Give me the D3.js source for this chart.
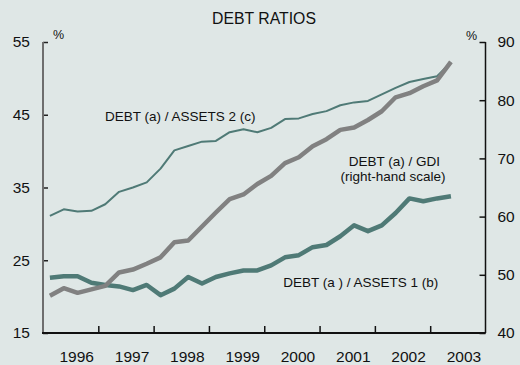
<!DOCTYPE html>
<html>
<head>
<meta charset="utf-8">
<script src="https://cdn.jsdelivr.net/npm/d3@7"></script>
<style>
  html, body { margin: 0; padding: 0; background: #dfe7e6; }
  svg { display: block; font-family: "Liberation Sans", Arial, sans-serif; }
</style>
</head>
<body>
<svg id="chart" width="520" height="365"></svg>
<script>
// Quarterly observations, 1996 Q1 to 2003 Q2
const quarters = [
  "1996Q1","1996Q2","1996Q3","1996Q4","1997Q1","1997Q2","1997Q3","1997Q4",
  "1998Q1","1998Q2","1998Q3","1998Q4","1999Q1","1999Q2","1999Q3","1999Q4",
  "2000Q1","2000Q2","2000Q3","2000Q4","2001Q1","2001Q2","2001Q3","2001Q4",
  "2002Q1","2002Q2","2002Q3","2002Q4","2003Q1","2003Q2"
];

// Debt / assets 2 (left scale, %)
const debtAssets2 = [
  31.1, 32.0, 31.7, 31.8, 32.7, 34.4, 35.0, 35.7, 37.6, 40.1,
  40.7, 41.3, 41.4, 42.6, 43.0, 42.6, 43.2, 44.4, 44.5, 45.1,
  45.5, 46.3, 46.7, 46.9, 47.8, 48.7, 49.5, 49.9, 50.3, 52.2
];

// Debt / assets 1 (left scale, %)
const debtAssets1 = [
  22.6, 22.8, 22.8, 21.9, 21.6, 21.4, 20.9, 21.6, 20.2, 21.1,
  22.7, 21.8, 22.7, 23.2, 23.6, 23.6, 24.3, 25.4, 25.7, 26.8,
  27.1, 28.3, 29.8, 29.0, 29.8, 31.5, 33.5, 33.1, 33.5, 33.8
];

// Debt / GDI (right scale, %)
const debtGdi = [
  46.4, 47.7, 46.9, 47.5, 48.1, 50.4, 50.9, 51.9, 53.0, 55.6,
  55.9, 58.3, 60.7, 63.0, 63.8, 65.6, 67.0, 69.2, 70.2, 72.1,
  73.3, 74.9, 75.3, 76.6, 78.1, 80.5, 81.2, 82.4, 83.4, 86.6
];

const yearLabels = ["1996","1997","1998","1999","2000","2001","2002","2003"];
const leftTicks = [15, 25, 35, 45, 55];
const rightTicks = [40, 50, 60, 70, 80, 90];

const teal = "#4f7a76";
const grey = "#818181";

const svg = d3.select("#chart");
const W = 520, H = 365;
const plot = { left: 43, right: 485.5, top: 42, bottom: 333 };

// Each quarter is plotted at its mid-point
const qTime = q => +q.slice(0, 4) + (+q.slice(5) - 1) / 4 + 0.125;

const x = d3.scaleLinear().domain([1996, 2004]).range([plot.left, plot.right]);
const yL = d3.scaleLinear().domain([15, 55]).range([plot.bottom, plot.top]);
const yR = d3.scaleLinear().domain([40, 90]).range([plot.bottom, plot.top]);

svg.append("rect").attr("width", W).attr("height", H).attr("fill", "#dfe7e6");

// Title
svg.append("text")
  .attr("x", 264).attr("y", 23.5)
  .attr("text-anchor", "middle")
  .attr("font-size", 15.8).attr("fill", "#111")
  .text("DEBT RATIOS");

// Left axis (ticks point inward)
const leftAxis = d3.axisRight(yL).tickValues(leftTicks).tickSize(5).tickFormat("");
const gL = svg.append("g").attr("transform", `translate(${plot.left},0)`).call(leftAxis);
gL.select(".domain").remove();
gL.selectAll(".tick line").attr("stroke", "#222").attr("stroke-width", 1.5);
svg.append("line")
  .attr("x1", plot.left).attr("x2", plot.left)
  .attr("y1", plot.top).attr("y2", plot.bottom)
  .attr("stroke", "#6e6e6e").attr("stroke-width", 2);
svg.append("g").selectAll("text").data(leftTicks).join("text")
  .attr("x", 30).attr("y", d => yL(d))
  .attr("dy", "0.35em").attr("text-anchor", "end")
  .attr("font-size", 15.5).attr("fill", "#111")
  .text(d => d);

// Right axis (ticks point inward)
const rightAxis = d3.axisLeft(yR).tickValues(rightTicks).tickSize(6).tickFormat("");
const gR = svg.append("g").attr("transform", `translate(${plot.right},0)`).call(rightAxis);
gR.select(".domain").remove();
gR.selectAll(".tick line").attr("stroke", "#111").attr("stroke-width", 1.5);
svg.append("line")
  .attr("x1", plot.right).attr("x2", plot.right)
  .attr("y1", plot.top).attr("y2", plot.bottom)
  .attr("stroke", "#111").attr("stroke-width", 1.5);
svg.append("g").selectAll("text").data(rightTicks).join("text")
  .attr("x", 497.5).attr("y", d => yR(d))
  .attr("dy", "0.35em").attr("text-anchor", "start")
  .attr("font-size", 15.5).attr("fill", "#111")
  .text(d => d);

// Bottom axis: ticks at year boundaries, labels between them
const yearBounds = d3.range(1997, 2004);
const bottomAxis = d3.axisTop(x).tickValues(yearBounds).tickSize(7).tickFormat("");
const gB = svg.append("g").attr("transform", `translate(0,${plot.bottom})`).call(bottomAxis);
gB.select(".domain").remove();
gB.selectAll(".tick line").attr("stroke", "#111").attr("stroke-width", 1.5);
svg.append("line")
  .attr("x1", plot.left - 1).attr("x2", plot.right)
  .attr("y1", plot.bottom).attr("y2", plot.bottom)
  .attr("stroke", "#111").attr("stroke-width", 2);
svg.append("g").selectAll("text").data(yearLabels).join("text")
  .attr("x", d => x(+d + 0.61)).attr("y", 362)
  .attr("text-anchor", "middle")
  .attr("font-size", 15.5).attr("fill", "#111")
  .text(d => d);

// Unit labels
svg.append("text").attr("x", 53).attr("y", 38.5)
  .attr("font-size", 12.5).attr("fill", "#111").text("%");
svg.append("text").attr("x", 466).attr("y", 40)
  .attr("font-size", 12.5).attr("fill", "#111").text("%");

// Series lines
const lineL = d3.line().x((d, i) => x(qTime(quarters[i]))).y(d => yL(d));
const lineR = d3.line().x((d, i) => x(qTime(quarters[i]))).y(d => yR(d));

svg.append("path").datum(debtAssets2)
  .attr("d", lineL).attr("fill", "none")
  .attr("stroke", teal).attr("stroke-width", 2)
  .attr("stroke-linejoin", "round");

svg.append("path").datum(debtAssets1)
  .attr("d", lineL).attr("fill", "none")
  .attr("stroke", teal).attr("stroke-width", 4.5)
  .attr("stroke-linejoin", "round");

svg.append("path").datum(debtGdi)
  .attr("d", lineR).attr("fill", "none")
  .attr("stroke", grey).attr("stroke-width", 4.5)
  .attr("stroke-linejoin", "round");

// Series annotations
const ann = svg.append("g").attr("font-size", 13.5).attr("fill", "#111");
ann.append("text").attr("x", 105).attr("y", 120.5).text("DEBT (a) / ASSETS 2 (c)");
ann.append("text").attr("x", 394.5).attr("y", 165.5).attr("text-anchor", "middle").text("DEBT (a) / GDI");
ann.append("text").attr("x", 393).attr("y", 181).attr("text-anchor", "middle").text("(right-hand scale)");
ann.append("text").attr("x", 283.3).attr("y", 287.3).text("DEBT (a ) / ASSETS 1 (b)");
</script>
</body>
</html>
